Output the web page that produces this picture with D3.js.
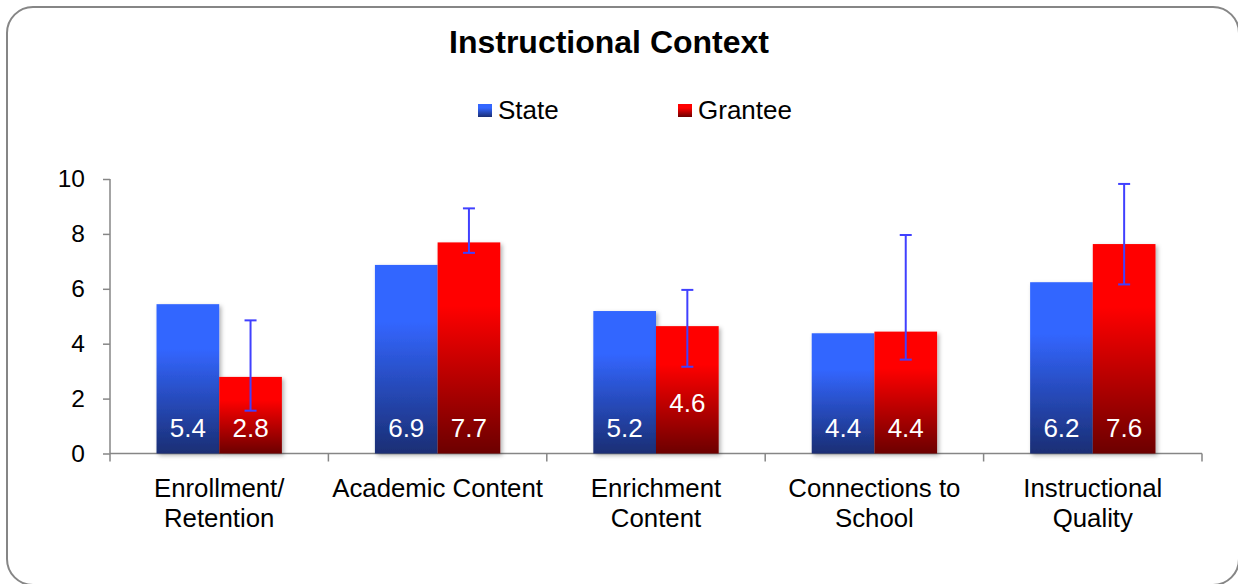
<!DOCTYPE html>
<html>
<head>
<meta charset="utf-8">
<script src="https://cdn.jsdelivr.net/npm/d3@7"></script>
<style>
  html, body { margin: 0; padding: 0; background: #fff; }
  svg { display: block; font-family: "Liberation Sans", Arial, sans-serif; }
</style>
</head>
<body>
<svg id="chart" width="1238" height="584"></svg>
<script>
// ---- data ----
const title = "Instructional Context";
const categories = [["Enrollment/", "Retention"], ["Academic Content"], ["Enrichment", "Content"], ["Connections to", "School"], ["Instructional", "Quality"]];
const seriesNames = ["State", "Grantee"];
const stateValues = [5.44, 6.87, 5.19, 4.38, 6.24];
const granteeValues = [2.79, 7.69, 4.64, 4.44, 7.63];
const granteeErrLow = [1.56, 7.31, 3.16, 3.42, 6.16];
const granteeErrHigh = [4.85, 8.93, 5.96, 7.96, 9.82];
const yTicks = [0, 2, 4, 6, 8, 10];

// ---- layout ----
const W = 1238, H = 584;
const plot = { left: 110, right: 1202, top: 179, bottom: 453.5 };
const svg = d3.select("#chart");
const defs = svg.append("defs");

function grad(id, top, bottom) {
  const g = defs.append("linearGradient").attr("id", id)
    .attr("x1", 0).attr("y1", 0).attr("x2", 0).attr("y2", 1);
  g.append("stop").attr("offset", "0").attr("stop-color", top);
  g.append("stop").attr("offset", "0.3").attr("stop-color", top);
  g.append("stop").attr("offset", "1").attr("stop-color", bottom);
}
grad("gState", "#3366ff", "#1a2e74");
grad("gGrantee", "#ff0000", "#6c0000");
const shadow = defs.append("filter").attr("id", "shadow")
  .attr("x", "-10%").attr("y", "-10%").attr("width", "130%").attr("height", "130%");
shadow.append("feDropShadow").attr("dx", 2).attr("dy", 2).attr("stdDeviation", 2)
  .attr("flood-color", "#000").attr("flood-opacity", 0.3);

// frame
svg.append("rect").attr("x", 7).attr("y", 7).attr("width", 1232).attr("height", 578)
  .attr("rx", 26).attr("ry", 26).attr("fill", "#fff").attr("stroke", "#868686").attr("stroke-width", 2);

const x0 = d3.scaleBand().domain(d3.range(categories.length)).range([plot.left, plot.right])
  .paddingInner(0).paddingOuter(0);
const barGroupFrac = 0.574;
const x1 = d3.scaleBand().domain(seriesNames)
  .range([x0.bandwidth() * (1 - barGroupFrac) / 2, x0.bandwidth() * (1 + barGroupFrac) / 2]);
const y = d3.scaleLinear().domain([0, 10]).range([plot.bottom, plot.top]);

// axes
const axisColor = "#868686";
const yAxis = svg.append("g").attr("transform", `translate(${plot.left},0)`)
  .call(d3.axisLeft(y).tickValues(yTicks).tickSize(7).tickPadding(18).tickFormat(d3.format("d")));
yAxis.select(".domain").attr("stroke", axisColor).attr("stroke-width", 1.5).attr("d", `M0,${plot.top}V${plot.bottom}`);
yAxis.selectAll(".tick line").attr("stroke", axisColor).attr("stroke-width", 1.5);
yAxis.selectAll(".tick text").attr("font-size", 24.5).attr("fill", "#000")
  .attr("font-family", "Liberation Sans, Arial, sans-serif");

// x axis line & ticks at category boundaries
const boundaries = d3.range(categories.length + 1).map(i => plot.left + i * x0.bandwidth());
svg.append("line").attr("x1", plot.left).attr("x2", plot.right).attr("y1", plot.bottom).attr("y2", plot.bottom)
  .attr("stroke", axisColor).attr("stroke-width", 1.5);
svg.selectAll(".xtick").data(boundaries).enter().append("line")
  .attr("x1", d => d).attr("x2", d => d).attr("y1", plot.bottom).attr("y2", plot.bottom + 8)
  .attr("stroke", axisColor).attr("stroke-width", 1.5);

// category labels
categories.forEach((lines, i) => {
  const cx = x0(i) + x0.bandwidth() / 2;
  const t = svg.append("text").attr("x", cx).attr("y", 497).attr("text-anchor", "middle")
    .attr("font-size", 25.8).attr("fill", "#000");
  lines.forEach((ln, j) => t.append("tspan").attr("x", cx).attr("dy", j === 0 ? 0 : 30).text(ln));
});

// bars
const rows = categories.map((c, i) => ({ i, State: stateValues[i], Grantee: granteeValues[i] }));
const fills = { State: "url(#gState)", Grantee: "url(#gGrantee)" };
const labelBase = { "2|Grantee": 1.85 }; // label raised for enrichment grantee
const fmt = d3.format(".1f");
const groups = svg.selectAll(".grp").data(rows).enter().append("g")
  .attr("transform", d => `translate(${x0(d.i)},0)`);
groups.selectAll("rect").data(d => seriesNames.map(s => ({ s, v: d[s], i: d.i }))).enter().append("rect")
  .attr("x", d => x1(d.s)).attr("width", x1.bandwidth())
  .attr("y", d => y(d.v)).attr("height", d => y(0) - y(d.v))
  .attr("fill", d => fills[d.s]).attr("filter", "url(#shadow)");
groups.selectAll("text").data(d => seriesNames.map(s => ({ s, v: d[s], i: d.i }))).enter().append("text")
  .attr("x", d => x1(d.s) + x1.bandwidth() / 2)
  .attr("y", d => y(labelBase[d.i + "|" + d.s] || 0.93))
  .attr("dy", "0.35em").attr("text-anchor", "middle").attr("font-size", 26).attr("fill", "#fff")
  .text(d => fmt(d.v));

// error bars on grantee
const errColor = "#4040ff";
rows.forEach(d => {
  const cx = x0(d.i) + x1("Grantee") + x1.bandwidth() / 2;
  const g = svg.append("g").attr("stroke", errColor).attr("stroke-width", 2);
  g.append("line").attr("x1", cx).attr("x2", cx).attr("y1", y(granteeErrLow[d.i])).attr("y2", y(granteeErrHigh[d.i]));
  [granteeErrLow[d.i], granteeErrHigh[d.i]].forEach(v =>
    g.append("line").attr("x1", cx - 6).attr("x2", cx + 6).attr("y1", y(v)).attr("y2", y(v)));
});

// title
svg.append("text").attr("x", 609).attr("y", 53).attr("text-anchor", "middle")
  .attr("font-size", 32).attr("font-weight", "bold").attr("fill", "#000").text(title);

// legend
const legendX = [478, 678];
seriesNames.forEach((s, k) => {
  svg.append("rect").attr("x", legendX[k]).attr("y", 104).attr("width", 14).attr("height", 13)
    .attr("fill", fills[s]);
  svg.append("text").attr("x", legendX[k] + 20).attr("y", 119).attr("font-size", 26).attr("fill", "#000").text(s);
});
</script>
</body>
</html>
